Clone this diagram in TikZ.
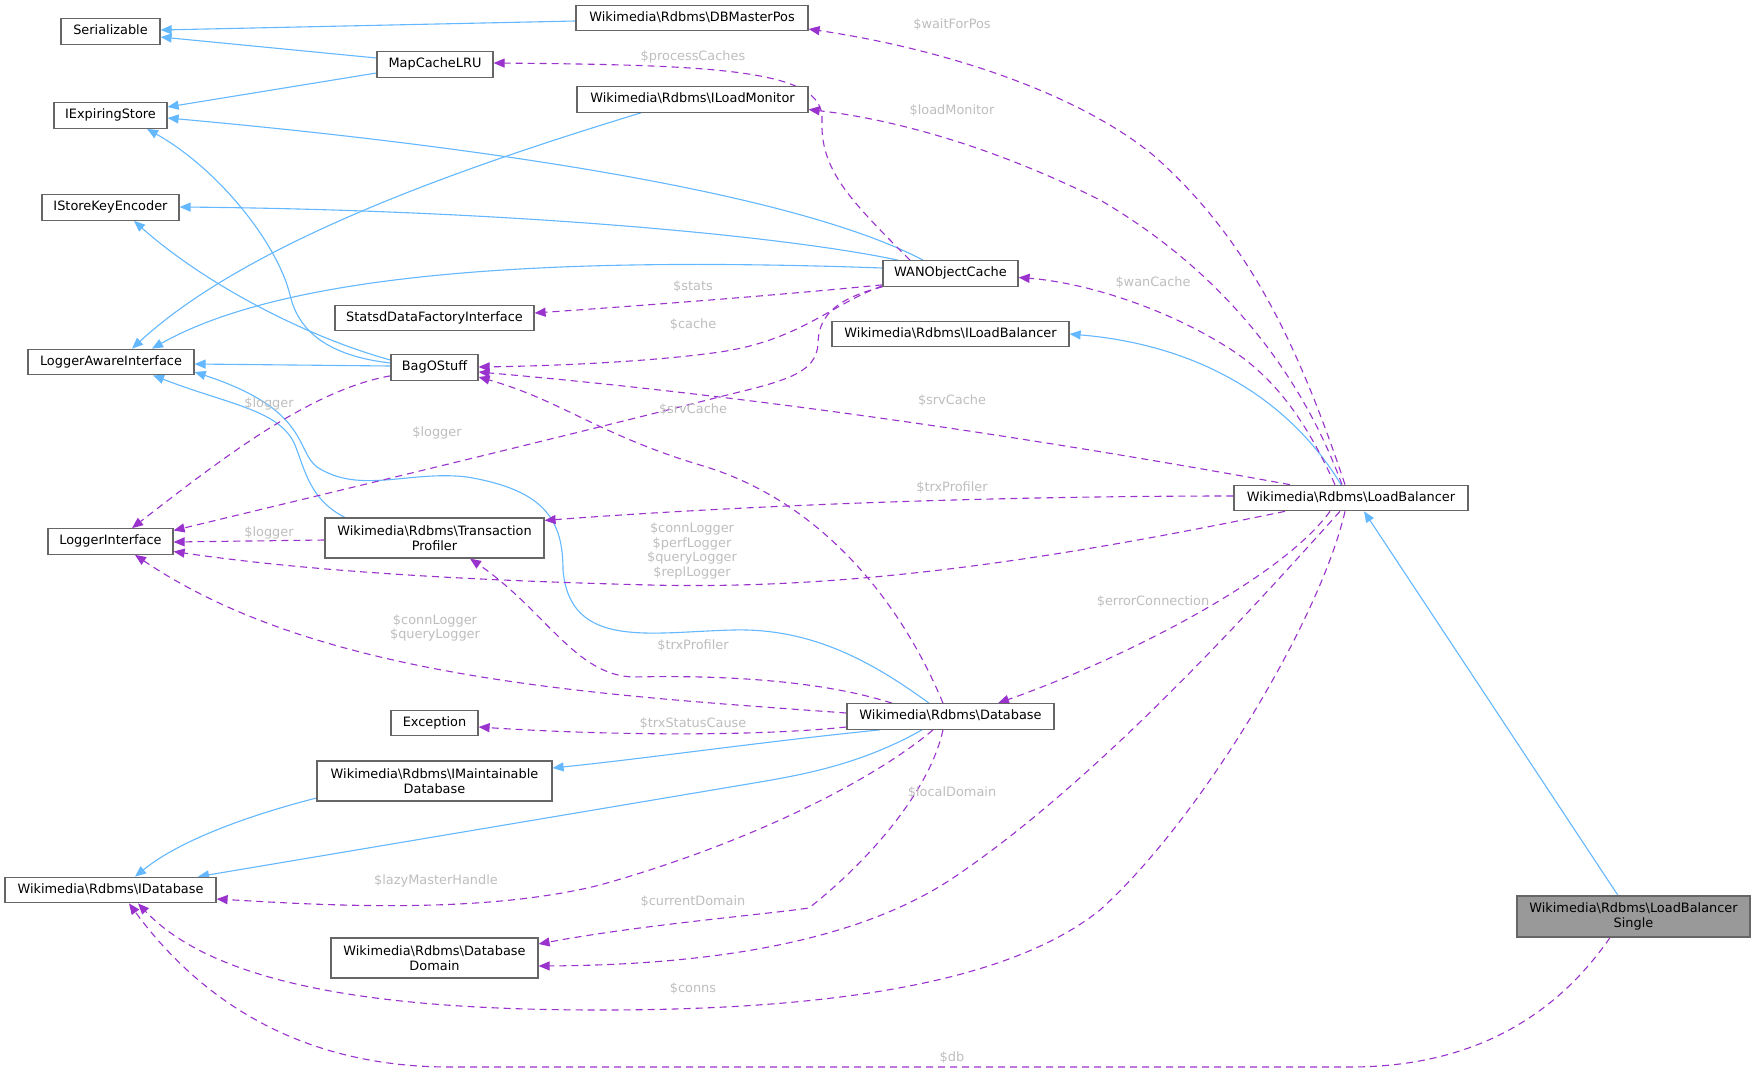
\documentclass[tikz,border=0pt]{standalone}
\usepackage{fontspec}
\setmainfont{DejaVu Sans}
\usetikzlibrary{arrows.meta,calc}
\definecolor{inhc}{HTML}{63B8FF}
\definecolor{usec}{HTML}{9A32CD}
\definecolor{lblc}{HTML}{BEBEBE}
\definecolor{bordc}{HTML}{666666}
\definecolor{selc}{HTML}{999999}
\newcommand{\bs}{\textbackslash{}}
\pgfdeclarelayer{back}
\pgfdeclarelayer{edges}
\pgfsetlayers{back,edges,main}
\begin{document}
\begin{tikzpicture}[x=1pt,y=-1pt,
  font=\fontsize{12.9}{14.7}\selectfont,
  box/.style={draw=bordc, line width=1.2pt, fill=white, inner sep=0pt,
    minimum height=25.5pt, text height=9.4pt, text depth=2.6pt},
  boxtwo/.style={draw=bordc, line width=1.2pt, fill=white, inner sep=0pt,
    minimum height=40pt, align=center},
  inherit/.style={draw=inhc, line width=1.1pt, -{Triangle[length=11pt,width=9pt]}},
  assoc/.style={draw=usec, line width=1.1pt, dash pattern=on 7pt off 5pt,
    -{Triangle[length=11pt,width=9pt]}},
  lab/.style={text=lblc, inner sep=0pt, align=center}]
\begin{pgfonlayer}{back}
\path[use as bounding box, fill=white] (0,0) rectangle (1756,1073);
\end{pgfonlayer}

% nodes
\node[box, minimum width=99pt] (ser) at (110.5,31.5) {Serializable};
\node[box, minimum width=232pt] (dbm) at (692,18) {Wikimedia\bs Rdbms\bs DBMasterPos};
\node[box, minimum width=116pt] (mc) at (435,64.5) {MapCacheLRU};
\node[box, minimum width=113pt] (iexp) at (110.5,115.5) {IExpiringStore};
\node[box, minimum width=231pt] (ilm) at (692.5,99.5) {Wikimedia\bs Rdbms\bs ILoadMonitor};
\node[box, minimum width=137pt] (iske) at (110.5,207.5) {IStoreKeyEncoder};
\node[box, minimum width=135pt] (wan) at (950.5,273.5) {WANObjectCache};
\node[box, minimum width=199pt] (statsd) at (434.5,318) {StatsdDataFactoryInterface};
\node[box, minimum width=237pt] (ilb) at (950.5,334) {Wikimedia\bs Rdbms\bs ILoadBalancer};
\node[box, minimum width=166pt] (lai) at (111,362) {LoggerAwareInterface};
\node[box, minimum width=87pt] (bag) at (434.5,367.5) {BagOStuff};
\node[box, minimum width=234pt] (lb) at (1351,498) {Wikimedia\bs Rdbms\bs LoadBalancer};
\node[box, minimum width=125pt] (li) at (110.5,541.5) {LoggerInterface};
\node[boxtwo, minimum width=219pt] (tp) at (434.5,538) {Wikimedia\bs Rdbms\bs Transaction\\Profiler};
\node[box, minimum width=87pt] (exc) at (434.5,723) {Exception};
\node[box, minimum width=207pt] (db) at (950.5,716.5) {Wikimedia\bs Rdbms\bs Database};
\node[boxtwo, minimum width=235pt] (imd) at (434.5,781) {Wikimedia\bs Rdbms\bs IMaintainable\\Database};
\node[box, minimum width=211pt] (idb) at (110.5,890) {Wikimedia\bs Rdbms\bs IDatabase};
\node[boxtwo, minimum width=207pt] (ddom) at (434.5,958) {Wikimedia\bs Rdbms\bs Database\\Domain};
\node[boxtwo, minimum width=233pt, minimum height=41pt, fill=selc] (lbs) at (1633.5,916.5) {Wikimedia\bs Rdbms\bs LoadBalancer\\Single};

\begin{pgfonlayer}{edges}
% inheritance
\draw[inherit] ($(dbm.west)+(0,3)$) -- ($(ser.east)+(0,-1.5)$);
\draw[inherit] ($(mc.west)+(0,-6.5)$) -- ($(ser.east)+(0,5.5)$);
\draw[inherit] ($(mc.west)+(0,8.5)$) -- ($(iexp.east)+(0,-8.5)$);
\draw[inherit] ($(wan.north)+(-27.5,0)$) .. controls (800,195) and (500,148) .. ($(iexp.east)+(0,2.5)$);
\draw[inherit] ($(wan.north)+(-52.5,0)$) .. controls (780,235) and (500,210) .. ($(iske.east)+(0,-0.5)$);
\draw[inherit] ($(wan.west)+(0,-5.5)$) .. controls (600,258) and (300,265) .. ($(lai.north)+(41,0)$);
\draw[inherit] ($(ilm.south)+(-51.5,0)$) .. controls (470,165) and (250,240) .. ($(lai.north)+(21,0)$);
\draw[inherit] ($(bag.west)+(0,-1.5)$) -- ($(lai.east)+(0,2)$);
\draw[inherit] ($(bag.west)+(0,-4.5)$) .. controls (320,355) and (297,325) .. (290,295)
  .. controls (278,245) and (220,170) .. ($(iexp.south)+(36.5,0)$);
\draw[inherit] ($(bag.west)+(0,-7.5)$) .. controls (300,335) and (200,280) .. ($(iske.south)+(23.5,0)$);
\draw[inherit] ($(tp.north)+(-89.5,0)$) .. controls (310,500) and (305,470) .. (295,445)
  .. controls (280,410) and (230,405) .. ($(lai.south)+(42,0)$);
\draw[inherit] ($(db.north)+(-21.5,0)$) .. controls (870,660) and (810,628) .. (733,630)
  .. controls (650,632) and (570,650) .. (563,570)
  .. controls (563,520) and (545,490) .. (467,477)
  .. controls (410,470) and (360,495) .. (317,467)
  .. controls (295,450) and (310,410) .. ($(lai.east)+(0,10)$);
\draw[inherit] ($(db.south)+(-70.5,0)$) .. controls (760,742) and (650,758) .. ($(imd.east)+(0,-13)$);
\draw[inherit] ($(db.south)+(-28.5,0)$) .. controls (860,765) and (800,775) .. (760,782) -- ($(idb.north)+(87.5,0)$);
\draw[inherit] ($(imd.west)+(0,17)$) .. controls (250,815) and (180,840) .. ($(idb.north)+(24.5,0)$);
\draw[inherit] ($(lb.north)+(-10,0)$) .. controls (1290,400) and (1200,345) .. (ilb.east);
\draw[inherit] ($(lbs.north)+(-15.5,0)$) -- ($(lb.south)+(13,0)$);

% associations
\draw[assoc] ($(lb.north)+(-6,0)$) .. controls (1300,350) and (1250,240) .. (1153,155)
  .. controls (1080,95) and (950,50) .. ($(dbm.east)+(0,11)$);
\draw[assoc] ($(lb.north)+(-9,0)$) .. controls (1300,370) and (1220,270) .. (1100,200)
  .. controls (1000,150) and (900,120) .. ($(ilm.east)+(0,10)$);
\draw[assoc] ($(lb.north)+(-16,0)$) .. controls (1310,430) and (1280,380) .. (1227,347)
  .. controls (1160,305) and (1080,282) .. ($(wan.east)+(0,4)$);
\draw[assoc] ($(lb.north)+(-61,0)$) .. controls (1100,450) and (800,400) .. ($(bag.east)+(0,4.5)$);
\draw[assoc] ($(lb.west)+(0,-2)$) .. controls (1000,496) and (750,505) .. ($(tp.north east)+(0,3)$);
\draw[assoc] ($(lb.south)+(-66,0)$) .. controls (1050,560) and (850,590) .. (650,585)
  .. controls (450,580) and (300,570) .. ($(li.east)+(0,10)$);
\draw[assoc] ($(lb.south)+(-21,0)$) .. controls (1280,580) and (1120,660) .. ($(db.north)+(47.5,0)$);
\draw[assoc] ($(lb.south)+(-11,0)$) .. controls (1260,600) and (1100,780) .. (950,880)
  .. controls (850,945) and (700,965) .. ($(ddom.east)+(0,8)$);
\draw[assoc] ($(lb.south)+(-6,0)$) .. controls (1320,620) and (1200,820) .. (1100,910)
  .. controls (1000,990) and (800,1010) .. (600,1010)
  .. controls (400,1010) and (220,990) .. ($(idb.south)+(27.5,0)$);
\draw[assoc] ($(wan.north)+(-40.5,0)$) .. controls (850,200) and (820,170) .. (822,120)
  .. controls (825,70) and (720,65) .. ($(mc.east)+(0,-1.5)$);
\draw[assoc] ($(wan.south west)+(0,-2)$) .. controls (780,295) and (650,305) .. ($(statsd.east)+(0,-5)$);
\draw[assoc] ($(wan.south west)+(0,-1)$) .. controls (830,305) and (800,340) .. (720,352)
  .. controls (650,362) and (550,366) .. ($(bag.east)+(0,-0.5)$);
\draw[assoc] (wan.south west) .. controls (830,300) and (818,320) .. (818,345)
  .. controls (815,372) and (790,380) .. (727,395)
  .. controls (550,440) and (300,500) .. ($(li.east)+(0,-11)$);
\draw[assoc] ($(bag.south west)+(0,-5)$) .. controls (310,390) and (220,460) .. ($(li.north)+(21.5,0)$);
\draw[assoc] ($(tp.west)+(0,2)$) -- ($(li.east)+(0,0.5)$);
\draw[assoc] ($(db.north)+(-7.5,0)$) .. controls (900,600) and (820,500) .. (700,465)
  .. controls (600,435) and (560,400) .. ($(bag.east)+(0,9.5)$);
\draw[assoc] ($(db.north)+(-58.5,0)$) .. controls (820,680) and (720,675) .. (633,677)
  .. controls (575,675) and (545,610) .. ($(tp.south)+(35.5,0)$);
\draw[assoc] ($(db.west)+(0,-3.5)$) .. controls (600,695) and (320,680) .. ($(li.south)+(24.5,0)$);
\draw[assoc] ($(db.west)+(0,10.5)$) .. controls (750,737) and (600,735) .. ($(exc.east)+(0,4)$);
\draw[assoc] ($(db.south)+(-17.5,0)$) .. controls (880,775) and (760,840) .. (600,885)
  .. controls (480,915) and (320,905) .. ($(idb.east)+(0,9)$);
\draw[assoc] ($(db.south)+(-7.5,0)$) .. controls (930,790) and (870,860) .. (809,908)
  .. controls (760,915) and (640,925) .. ($(ddom.east)+(0,-14)$);
\draw[assoc] ($(lbs.south)+(-23.5,0)$) .. controls (1560,1010) and (1480,1067) .. (1350,1067)
  -- (450,1067) .. controls (300,1067) and (200,1000) .. ($(idb.south)+(18.5,0)$);
\end{pgfonlayer}

% labels
\node[lab] (l1) at (952,25) {\$waitForPos};
\node[lab] (l2) at (693,57) {\$processCaches};
\node[lab] (l3) at (952,111) {\$loadMonitor};
\node[lab] (l4) at (1153,283) {\$wanCache};
\node[lab] (l5) at (693,287) {\$stats};
\node[lab] (l6) at (693,325) {\$cache};
\node[lab] (l7) at (952,401) {\$srvCache};
\node[lab] (l8) at (693,410) {\$srvCache};
\node[lab] (l9) at (269,404) {\$logger};
\node[lab] (l10) at (437,433) {\$logger};
\node[lab] (l11) at (952,488) {\$trxProfiler};
\node[lab] (l12) at (269,533) {\$logger};
\node[lab] (l13) at (692,551) {\$connLogger\\\$perfLogger\\\$queryLogger\\\$replLogger};
\node[lab] (l14) at (1153,602) {\$errorConnection};
\node[lab] (l15) at (435,628) {\$connLogger\\\$queryLogger};
\node[lab] (l16) at (693,646) {\$trxProfiler};
\node[lab] (l17) at (693,724) {\$trxStatusCause};
\node[lab] (l18) at (952,793) {\$localDomain};
\node[lab] (l19) at (436,881) {\$lazyMasterHandle};
\node[lab] (l20) at (693,902) {\$currentDomain};
\node[lab] (l21) at (693,989) {\$conns};
\node[lab] (l22) at (952,1058) {\$db};
\end{tikzpicture}
\end{document}
